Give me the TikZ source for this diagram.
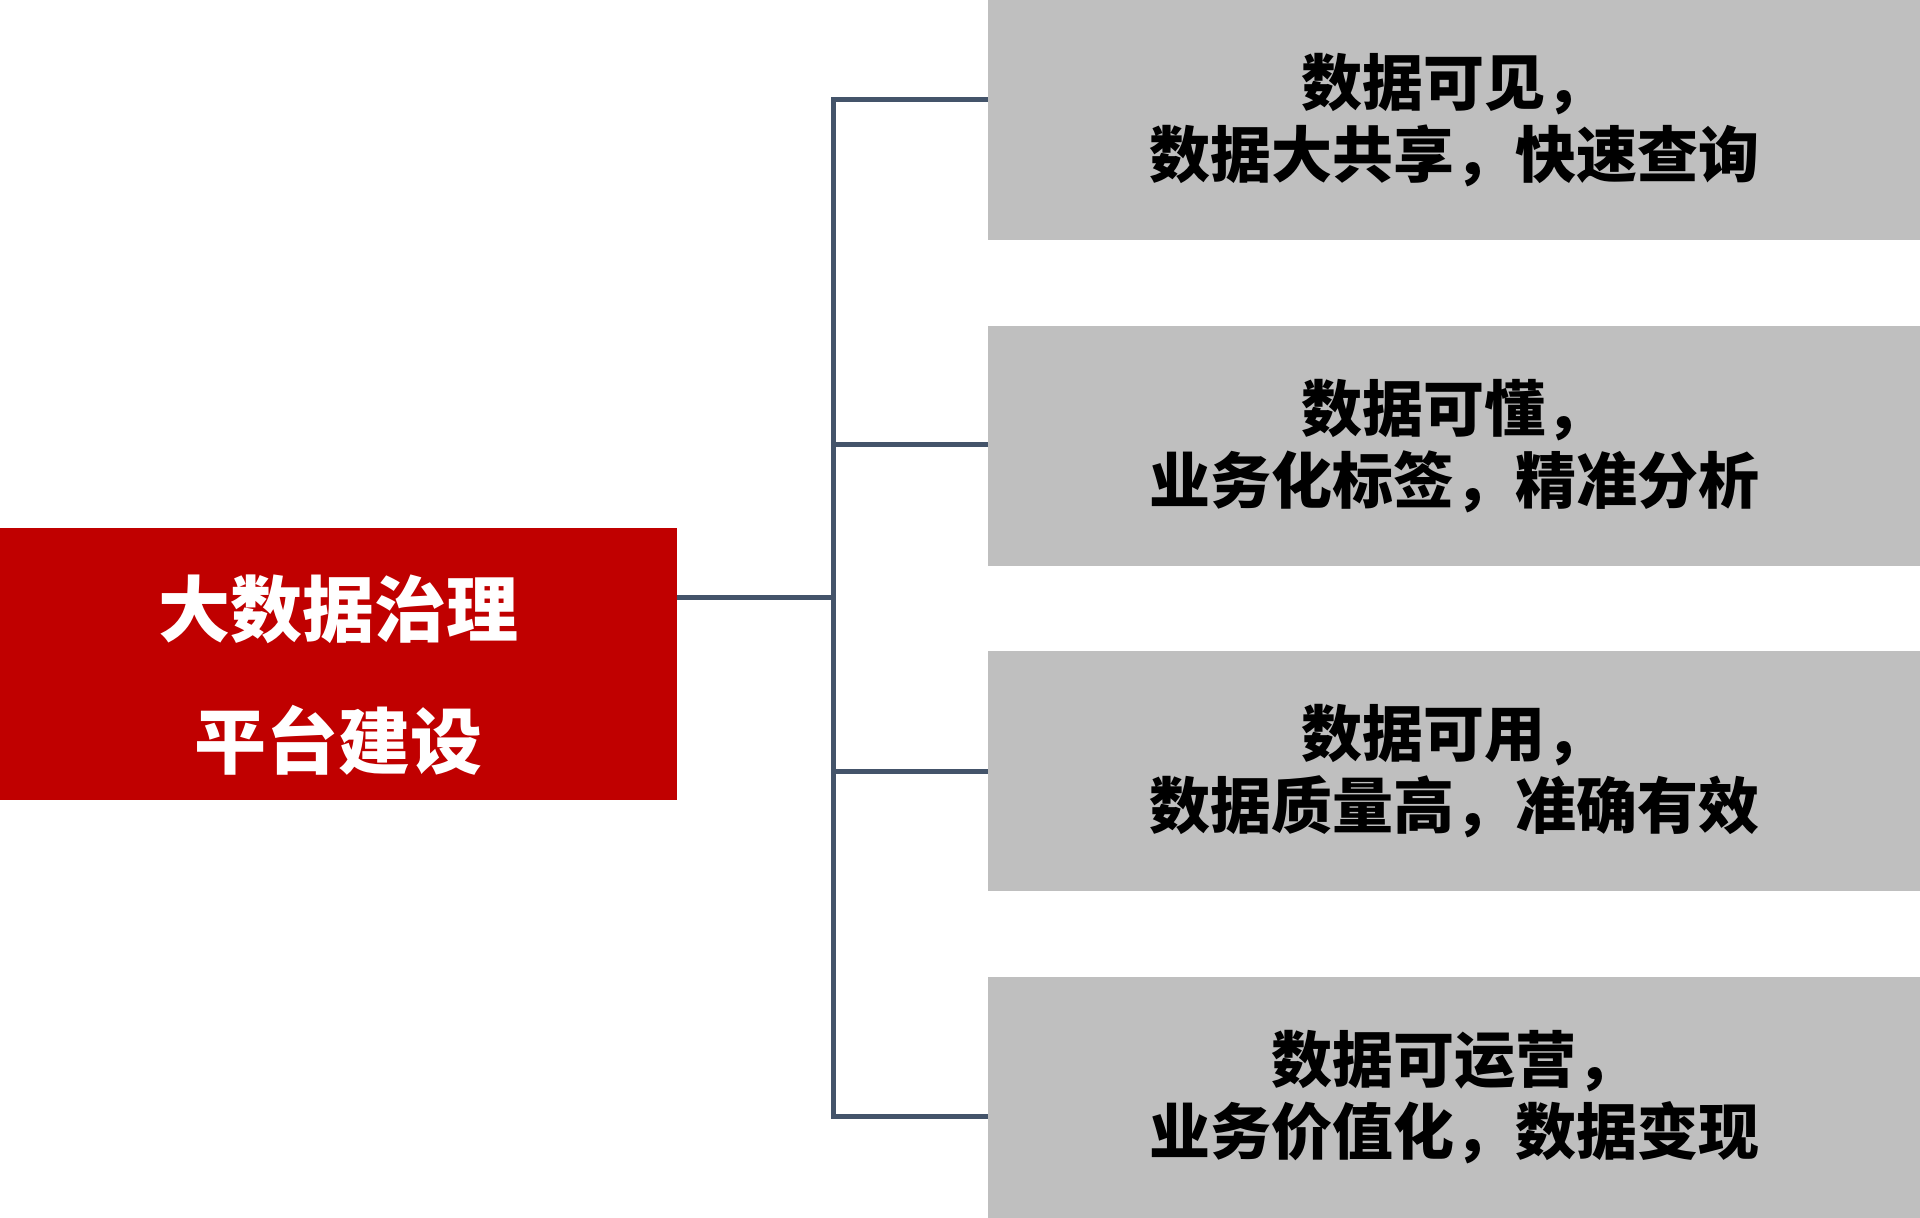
\documentclass[tikz,border=0pt]{standalone}
\usepackage{fontspec}
\usepackage{xcolor}
\newfontfamily\cjk{Noto Sans CJK SC}
\definecolor{govred}{HTML}{C00000}
\definecolor{goalgray}{HTML}{BFBFBF}
\definecolor{linkslate}{HTML}{44546A}
\usetikzlibrary{positioning}

\begin{document}
\begin{tikzpicture}[x=1pt, y=-1pt,
  goal/.style={fill=goalgray, minimum width=932pt, minimum height=240pt, inner sep=0pt,
    align=center, font=\cjk\bfseries\fontsize{61}{72}\selectfont},
  link/.style={draw=linkslate, line width=5pt, line join=miter}]
  \useasboundingbox (0,0) rectangle (1920,1218);
  % root
  \node[fill=govred, minimum width=677pt, minimum height=272pt, inner sep=0pt] (gov) at (338.5,663.5) {};
  \node[text=white, align=center, font=\cjk\bfseries\fontsize{72}{132}\selectfont] (govtext)
    at ([yshift=-12pt]gov.center) {大数据治理\\平台建设};
  % goals
  \node[goal] (g1) at (1454,120) {数据可见，\\数据大共享，快速查询};
  \node[goal] (g2) at (1454,446) {数据可懂，\\业务化标签，精准分析};
  \node[goal] (g3) at (1454,771) {数据可用，\\数据质量高，准确有效};
  \node[goal, minimum height=241pt] (g4) at (1454,1097.5) {数据可运营，\\业务价值化，数据变现};
  % links
  \coordinate (hub) at (833.5,597);
  \draw[link] (gov.east |- hub) -- (hub);
  \draw[link] (g1.west |- 0,99.5) -| (hub) |- (g4.west |- 0,1116);
  \draw[link] (hub |- 0,444.5) -- (g2.west |- 0,444.5);
  \draw[link] (hub |- 0,771.5) -- (g3.west |- 0,771.5);
\end{tikzpicture}
\end{document}
